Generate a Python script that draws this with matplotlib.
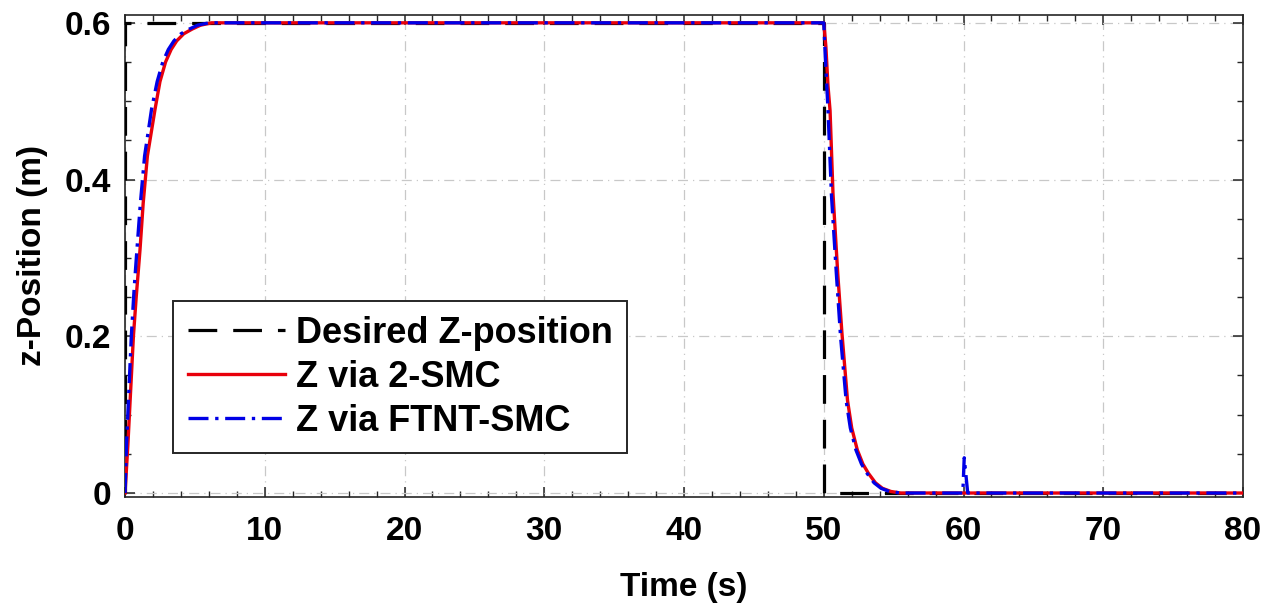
import matplotlib
matplotlib.use('Agg')
import matplotlib.pyplot as plt
from matplotlib.ticker import MultipleLocator, FuncFormatter

plt.rcParams.update({
    'font.family': ['Liberation Sans', 'DejaVu Sans'],
    'font.weight': 'bold',
    'font.size': 24,
    'axes.linewidth': 1.2,
    'axes.labelweight': 'bold',
})

# desired trajectory
t_ref = [0, 0, 50, 50, 80]
z_ref = [0, 0.6, 0.6, 0, 0]

# Z via 2-SMC
t_2smc = [0, 0.2, 0.4, 0.6, 0.8, 1.07, 1.3, 1.6, 2.15, 2.5, 2.9, 3.3, 3.7, 4.2, 4.8, 5.4, 6.2,
          50.0, 50.15, 50.3, 50.45, 50.66, 51.0, 51.3, 51.7, 52.0, 52.4, 52.8, 53.2, 53.7, 54.2, 54.8, 55.5, 80]
z_2smc = [0, 0.06, 0.13, 0.2, 0.25, 0.31, 0.37, 0.43, 0.49, 0.525, 0.55, 0.566, 0.577, 0.586, 0.592, 0.597, 0.6,
          0.6, 0.57, 0.52, 0.488, 0.382, 0.28, 0.204, 0.118, 0.083, 0.055, 0.037, 0.025, 0.013, 0.006, 0.002, 0.0, 0.0]

# Z via FTNT-SMC
t_ftnt = [0, 0.1, 0.3, 0.45, 0.65, 0.85, 1.1, 1.4, 1.9, 2.3, 2.7, 3.1, 3.5, 4.0, 4.6, 5.2, 6.0,
          50.0, 50.1, 50.3, 50.55, 50.9, 51.2, 51.6, 51.9, 52.3, 52.7, 53.1, 53.6, 54.1, 54.7, 55.5,
          59.95, 60.05, 60.3, 80]
z_ftnt = [0, 0.06, 0.14, 0.2, 0.26, 0.31, 0.37, 0.43, 0.49, 0.525, 0.55, 0.566, 0.577, 0.586, 0.592, 0.597, 0.6,
          0.6, 0.56, 0.49, 0.38, 0.28, 0.2, 0.118, 0.083, 0.055, 0.037, 0.025, 0.013, 0.006, 0.002, 0.0,
          0.0, 0.045, 0.0, 0.0]

fig = plt.figure(figsize=(12.68, 6.12), dpi=100)
ax = fig.add_axes([0.0986, 0.188, 0.8817, 0.7875])

ax.plot(t_ref, z_ref, color='black', lw=2.3, ls=(0, (9, 5)), label='Desired Z-position', zorder=3)
ax.plot(t_2smc, z_2smc, color='#e8000b', lw=2.4, ls='-', label='Z via 2-SMC', zorder=4)
ax.plot(t_ftnt, z_ftnt, color='#0000e6', lw=2.4, ls=(0, (6, 2, 1, 2)), label='Z via FTNT-SMC', zorder=5)

ax.set_xlim(0, 80)
ax.set_ylim(-0.005, 0.61)
ax.xaxis.set_major_locator(MultipleLocator(10))
ax.xaxis.set_minor_locator(MultipleLocator(2))
ax.yaxis.set_major_locator(MultipleLocator(0.2))
ax.yaxis.set_minor_locator(MultipleLocator(0.05))
ax.yaxis.set_major_formatter(FuncFormatter(lambda v, p: '0' if abs(v) < 1e-9 else f'{v:.1f}'))

ax.tick_params(which='both', direction='in', top=True, right=True, color='#262626')
ax.tick_params(which='major', length=7, width=1.1)
ax.tick_params(which='minor', length=4, width=1.0)
ax.tick_params(axis='x', pad=14)
ax.tick_params(axis='y', pad=10)
for s in ax.spines.values():
    s.set_color('#262626')

ax.grid(True, which='major', color='#c8c8c8', ls=(0, (8, 4, 1, 4)), lw=0.9)
ax.set_axisbelow(True)

ax.set_xlabel('Time (s)', labelpad=18)
ax.set_ylabel('z-Position (m)', labelpad=12)

leg = ax.legend(loc='lower left', bbox_to_anchor=(0.043, 0.091), borderaxespad=0,
                fontsize=26, handlelength=2.7, handletextpad=0.3, labelspacing=0.25, borderpad=0.4,
                fancybox=False, framealpha=1, edgecolor='#262626')
leg.get_frame().set_linewidth(1.4)

fig.savefig('out.png', dpi=100)
